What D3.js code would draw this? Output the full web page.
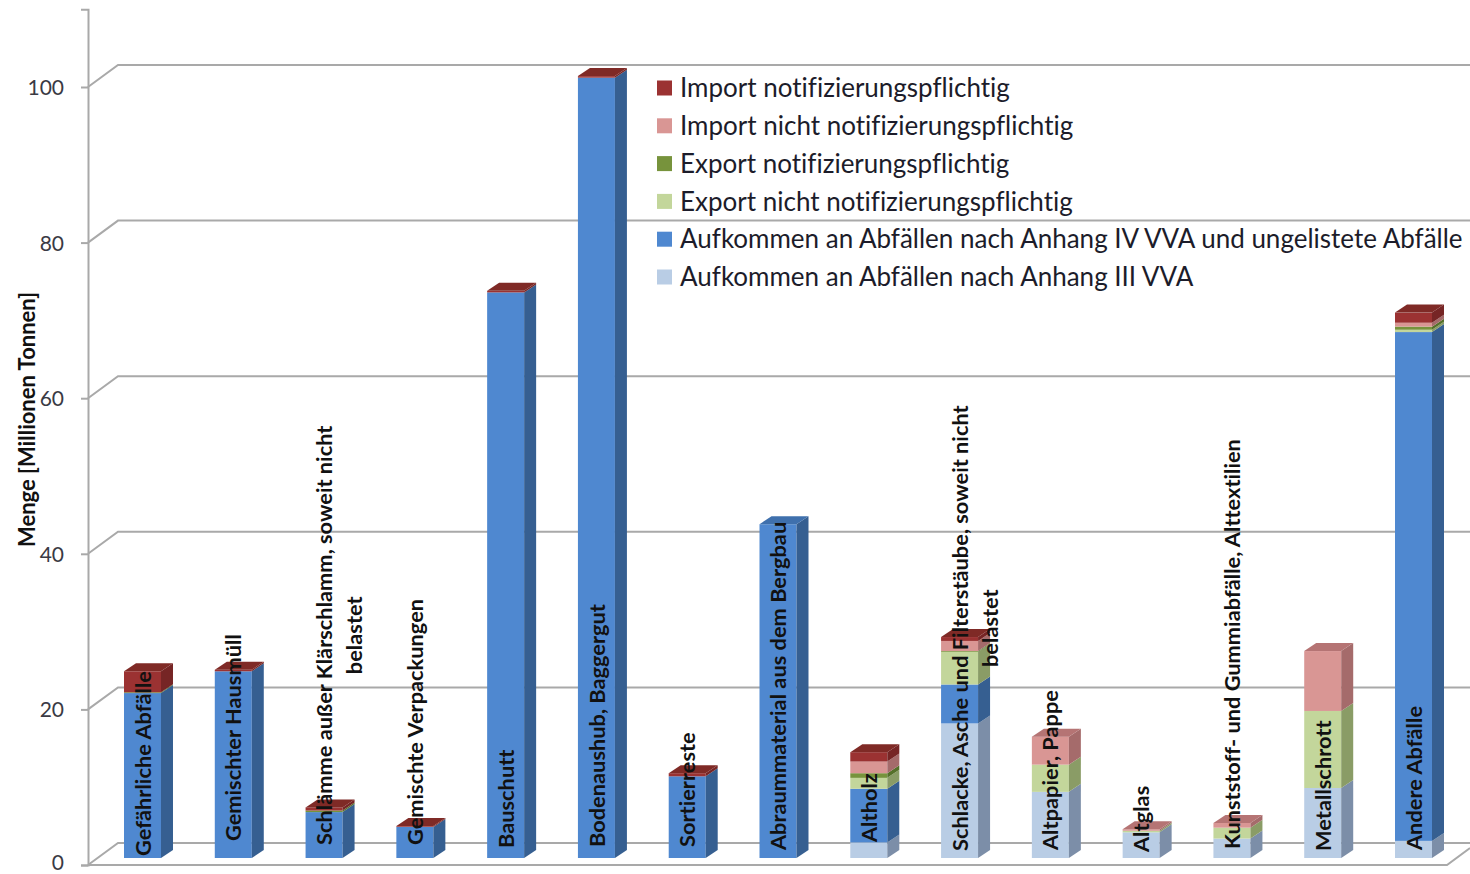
<!DOCTYPE html>
<html lang="de">
<head>
<meta charset="utf-8">
<script src="https://cdn.jsdelivr.net/npm/d3@7"></script>
<style>
html,body{margin:0;padding:0;background:#fff;overflow:hidden}
svg{display:block}
text{font-family:Lato,"Open Sans",sans-serif;font-variant-ligatures:none}
</style>
</head>
<body>
<svg id="chart" width="1470" height="874"></svg>
<script>
// ---- data ----
const categories = [
  "Gefährliche Abfälle","Gemischter Hausmüll",
  "Schlämme außer Klärschlamm, soweit nicht belastet","Gemischte Verpackungen",
  "Bauschutt","Bodenaushub, Baggergut","Sortierreste","Abraummaterial aus dem Bergbau",
  "Altholz","Schlacke, Asche und Filterstäube, soweit nicht belastet","Altpapier, Pappe",
  "Altglas","Kunststoff- und Gummiabfälle, Alttextilien","Metallschrott","Andere Abfälle"];
const seriesNames = [
  "Aufkommen an Abfällen nach Anhang III VVA",
  "Aufkommen an Abfällen nach Anhang IV VVA und ungelistete Abfälle",
  "Export nicht notifizierungspflichtig",
  "Export notifizierungspflichtig",
  "Import nicht notifizierungspflichtig",
  "Import notifizierungspflichtig"];
const anhang3    = [0,   0,   0,   0,   0,   0,    0,   0,   2.0, 17.3, 8.5, 3.3, 2.5, 9.0, 2.2];
const anhang4    = [21.2,24.0,5.9, 4.0, 72.7,100.3,10.5,42.9,6.9, 5.0,  0,   0,   0,   0,   65.4];
const exportNicht= [0,   0,   0,   0,   0,   0,    0,   0,   1.4, 4.2,  3.5, 0.2, 1.4, 9.9, 0.3];
const exportNot  = [0.1, 0,   0.2, 0,   0,   0,    0,   0,   0.6, 0.1,  0,   0,   0,   0,   0.4];
const importNicht= [0,   0,   0,   0,   0,   0,    0,   0,   1.5, 1.3,  3.6, 0.2, 0.6, 7.7, 0.5];
const importNot  = [2.7, 0.2, 0.4, 0.1, 0.2, 0.2,  0.4, 0,   1.2, 0.5,  0,   0,   0,   0,   1.3];
const yTicks = [0,20,40,60,80,100];
const yTitle = "Menge [Millionen Tonnen]";

// ---- styles / layout ----
const frontCol = ["#b9cde5","#4f88d0","#c3d69b","#77933c","#d99694","#9b3232"];
const sideCol  = ["#7c8ea8","#365f91","#8a9c66","#55702a","#a56b6b","#762525"];
const topCol   = ["#9fb1c9","#3f70ad","#a3b67c","#5f7c30","#b57474","#7f2a26"];
const wrapAt = {2:"soweit nicht", 9:"soweit nicht"};
const labelBase = [856,841,845,845,848,847,847,850,842,851,850,852,849,851,850];
const depthX = 12, depthY = 8, wallX = 30, wallY = 22, floorGap = 7;
const gridCol = "#a9a9a9";

const svg = d3.select("#chart");
const y = d3.scaleLinear().domain([0,110]).range([865,9.2]);
const x = d3.scaleBand().domain(categories).range([124,1432]).paddingInner(0.5925).paddingOuter(0);
const barY = v => y(v) - floorGap;

// walls and floor
const grid = svg.append("g").attr("fill","none").attr("stroke",gridCol).attr("stroke-width",2);
grid.selectAll("polyline").data(yTicks).join("polyline")
  .attr("points", d => [[88,y(d)],[88+wallX,y(d)-wallY],[1470,y(d)-wallY]].join(" "));
grid.append("path").attr("d",`M88,${y(0)}H1447L1470,${y(0)-wallY+5}`);

// left axis
const axis = svg.append("g").attr("transform","translate(88,0)")
  .call(d3.axisLeft(y).tickValues(yTicks).tickSize(7).tickPadding(17).tickFormat(d3.format("d")));
axis.selectAll("path,line").attr("stroke",gridCol).attr("stroke-width",2);
axis.selectAll("text").attr("font-size",21).attr("fill","#3a3a44")
  .attr("dy", d => d === 0 ? "0.2em" : "0.36em")
  .style("font-family","Lato");

// stacked 3-D bars
const stackArrays = [anhang3,anhang4,exportNicht,exportNot,importNicht,importNot];
const bars = svg.append("g");
categories.forEach((c,i) => {
  const g = bars.append("g");
  const x0 = x(c), x1 = x0 + x.bandwidth();
  let acc = 0, lastSeries = 0;
  stackArrays.forEach((arr,s) => {
    const v = arr[i];
    if (!v) return;
    const a = barY(acc), b = barY(acc+v);
    g.append("rect").attr("x",x0).attr("y",b).attr("width",x.bandwidth()).attr("height",a-b)
      .attr("fill",frontCol[s]);
    g.append("polygon")
      .attr("points",[[x1,a],[x1+depthX,a-depthY],[x1+depthX,b-depthY],[x1,b]].join(" "))
      .attr("fill",sideCol[s]);
    acc += v; lastSeries = s;
  });
  const t = barY(acc);
  g.append("polygon")
    .attr("points",[[x0,t],[x0+depthX,t-depthY],[x1+depthX,t-depthY],[x1,t]].join(" "))
    .attr("fill",topCol[lastSeries]);
});

// category labels
const labels = svg.append("g").attr("font-weight",700).attr("font-size",21.8).attr("fill","#111");
categories.forEach((c,i) => {
  const cx = x(c) + x.bandwidth()/2 + 0.5;
  const marker = wrapAt[i];
  let line1 = c, line2 = null;
  if (marker) {
    const p = c.indexOf(marker) + marker.length;
    line1 = c.slice(0,p); line2 = c.slice(p).trim();
  }
  const t1 = labels.append("text").text(line1)
    .attr("transform",`translate(${cx},${labelBase[i]}) rotate(-90)`)
    .attr("dy","0.35em");
  if (line2) {
    const mid = labelBase[i] - t1.node().getComputedTextLength()/2;
    labels.append("text").text(line2).attr("text-anchor","middle")
      .attr("transform",`translate(${cx+30},${mid}) rotate(-90)`)
      .attr("dy","0.35em");
  }
});

// y title
svg.append("text").text(yTitle)
  .attr("transform","translate(27,419.5) rotate(-90)")
  .attr("text-anchor","middle").attr("dy","0.35em")
  .attr("font-weight",700).attr("font-size",22).attr("fill","#111");

// legend (top entry = last stack series)
const order = d3.range(seriesNames.length).reverse();
const legendY = d3.scalePoint().domain(order).range([88,277]);
const legend = svg.append("g");
order.forEach(s => {
  legend.append("rect").attr("x",657).attr("y",legendY(s)-7.5).attr("width",15).attr("height",15)
    .attr("fill",frontCol[s]);
  legend.append("text").text(seriesNames[s]).attr("x",680).attr("y",legendY(s))
    .attr("dy","0.35em").attr("font-size",26).attr("fill","#1c1c2a");
});
</script>
</body>
</html>
